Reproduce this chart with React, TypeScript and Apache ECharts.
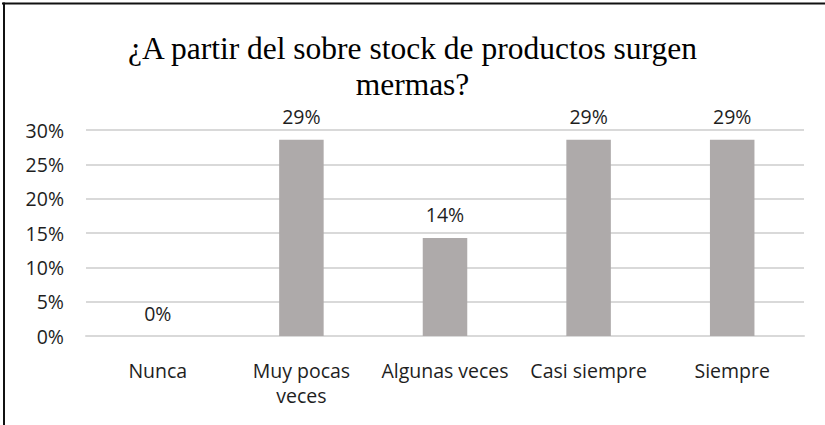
import React, { useEffect, useRef } from "react";
import * as echarts from "echarts";

const titleText = "¿A partir del sobre stock de productos surgen\nmermas?";
const categories = ["Nunca", "Muy pocas\nveces", "Algunas veces", "Casi siempre", "Siempre"];
const values = [0, 0.2857, 0.1429, 0.2857, 0.2857];
const yTicks = [0, 0.05, 0.1, 0.15, 0.2, 0.25, 0.3];

const labelFont = "Open Sans";
const labelSize = 19.5;
const labelColor = "#1e1e1e";

export default function App() {
  const ref = useRef<HTMLDivElement>(null);
  useEffect(() => {
    if (!ref.current) return;
    const chart = echarts.init(ref.current, null, { renderer: "svg" });
    chart.setOption({
      animation: false,
      backgroundColor: "#ffffff",
      title: {
        text: titleText,
        left: "center",
        top: 25,
        textStyle: {
          fontFamily: "Liberation Serif",
          fontSize: 31.5,
          fontWeight: "normal",
          color: "#000000",
          lineHeight: 36,
        },
      },
      grid: { left: 86, right: 21, top: 130, bottom: 89, containLabel: false },
      xAxis: {
        type: "category",
        data: categories,
        axisLine: { show: true, lineStyle: { color: "#d9d9d9", width: 2 } },
        axisTick: { show: false },
        axisLabel: {
          interval: 0,
          margin: 22,
          fontFamily: labelFont,
          fontSize: labelSize,
          color: labelColor,
          lineHeight: 25,
        },
      },
      yAxis: {
        type: "value",
        min: yTicks[0],
        max: yTicks[yTicks.length - 1],
        interval: 0.05,
        axisLine: { show: false },
        axisTick: { show: false },
        splitLine: { lineStyle: { color: "#d9d9d9", width: 2 } },
        axisLabel: {
          margin: 22,
          fontFamily: labelFont,
          fontSize: labelSize,
          color: labelColor,
          formatter: (v: number) => `${Math.round(v * 100)}%`,
        },
      },
      series: [
        {
          type: "bar",
          data: values,
          barWidth: "31%",
          itemStyle: { color: "#aeaaaa" },
          label: {
            show: true,
            position: "top",
            distance: 13,
            fontFamily: labelFont,
            fontSize: labelSize,
            color: labelColor,
            formatter: (p: any) => `${Math.round(p.value * 100)}%`,
          },
        },
      ],
      graphic: [
        {
          type: "line",
          shape: { x1: 2, y1: 3.5, x2: 825, y2: 3.5 },
          style: { stroke: "#111111", lineWidth: 2 },
        },
        {
          type: "line",
          shape: { x1: 4, y1: 2.5, x2: 4, y2: 425 },
          style: { stroke: "#111111", lineWidth: 2 },
        },
      ],
    });
    return () => chart.dispose();
  }, []);
  return (
    <div
      ref={ref}
      style={{ position: "fixed", left: 0, top: 0, width: 825, height: 425 }}
    />
  );
}
